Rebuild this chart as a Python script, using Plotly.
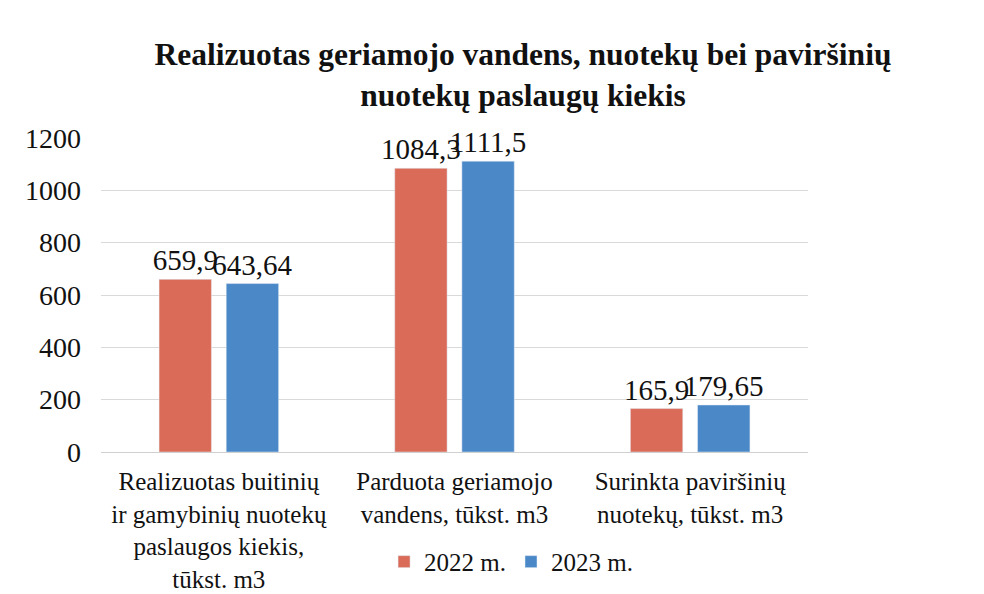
import plotly.graph_objects as go

categories = [
    "Realizuotas buitinių<br>ir gamybinių nuotekų<br>paslaugos kiekis,<br>tūkst. m3",
    "Parduota geriamojo<br>vandens, tūkst. m3",
    "Surinkta paviršinių<br>nuotekų, tūkst. m3",
]
values_2022 = [659.9, 1084.3, 165.9]
values_2023 = [643.64, 1111.5, 179.65]
y_ticks = [0, 200, 400, 600, 800, 1000, 1200]

font_name = "Liberation Serif"


def lt(v):
    # lithuanian decimal comma
    return str(v).replace(".", ",")


fig = go.Figure()
fig.add_trace(go.Bar(
    x=categories, y=values_2022, name="2022 m.",
    marker_color="#D96B58",
    text=[lt(v) for v in values_2022], textposition="outside",
    textfont=dict(family=font_name, size=29, color="#111111"),
    constraintext="none", cliponaxis=False,
))
fig.add_trace(go.Bar(
    x=categories, y=values_2023, name="2023 m.",
    marker_color="#4A88C7",
    text=[lt(v) for v in values_2023], textposition="outside",
    textfont=dict(family=font_name, size=29, color="#111111"),
    constraintext="none", cliponaxis=False,
))

fig.update_layout(
    width=984, height=594,
    paper_bgcolor="white", plot_bgcolor="white",
    font=dict(family=font_name, size=25, color="#111111"),
    title=dict(
        text="Realizuotas geriamojo vandens, nuotekų bei paviršinių<br>nuotekų paslaugų kiekis",
        font=dict(family=font_name, size=31.5, color="#111111", weight="bold"),
        x=515 / 984, xanchor="center",
        yref="container", y=1 - 57 / 594, yanchor="top",
    ),
    barmode="group", bargap=0.43, bargroupgap=0.22,
    margin=dict(l=93, r=184, t=130, b=150),
    showlegend=True,
    legend=dict(
        orientation="h", x=0.58, xanchor="center", y=-0.35, yanchor="middle",
        font=dict(family=font_name, size=25, color="#111111"),
        traceorder="normal",
    ),
)
fig.update_xaxes(
    showline=False, showgrid=False, ticks="outside", ticklen=7, tickcolor="white",
    automargin=False,
    tickfont=dict(family=font_name, size=25, color="#111111"),
)
fig.update_yaxes(
    range=[0, 1200], tickvals=y_ticks, showgrid=True, gridcolor="#D9D9D9",
    gridwidth=1.3, zeroline=True, zerolinecolor="#D0D0D0", zerolinewidth=1.3,
    showline=False, ticks="", ticklabelstandoff=19, automargin=False,
    tickfont=dict(family=font_name, size=28, color="#111111"),
)

fig.write_html("out.html")
